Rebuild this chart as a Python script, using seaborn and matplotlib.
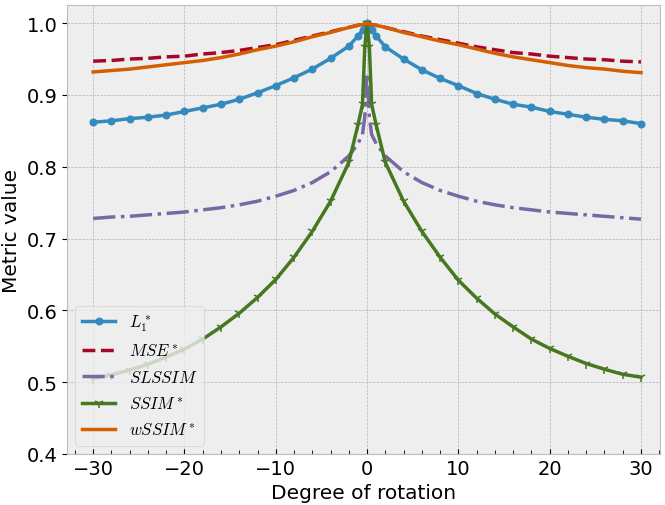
import numpy as np
import pandas as pd
import matplotlib
matplotlib.use('Agg')
import matplotlib.pyplot as plt
import seaborn as sns
from matplotlib.ticker import MultipleLocator

# rotation angles (degrees)
angles = [-30, -28, -26, -24, -22, -20, -18, -16, -14, -12, -10, -8, -6, -4, -2,
          -1, -0.5, -0.25, 0, 0.25, 0.5, 1,
          2, 4, 6, 8, 10, 12, 14, 16, 18, 20, 22, 24, 26, 28, 30]

l1 = [0.862, 0.864, 0.867, 0.869, 0.872, 0.877, 0.882, 0.887, 0.894, 0.903, 0.913, 0.924, 0.936, 0.951, 0.968,
      0.982, 0.990, 0.994, 1.000, 0.994, 0.990, 0.982,
      0.967, 0.950, 0.935, 0.923, 0.913, 0.902, 0.894, 0.887, 0.883, 0.877, 0.873, 0.869, 0.866, 0.864, 0.860]

mse = [0.947, 0.948, 0.950, 0.951, 0.953, 0.954, 0.957, 0.959, 0.962, 0.966, 0.970, 0.976, 0.982, 0.988, 0.994,
       0.997, 0.998, 0.999, 1.000, 0.999, 0.998, 0.997,
       0.994, 0.988, 0.982, 0.977, 0.972, 0.967, 0.963, 0.959, 0.957, 0.954, 0.952, 0.950, 0.949, 0.947, 0.946]

slssim = [0.728, 0.730, 0.731, 0.733, 0.735, 0.737, 0.740, 0.743, 0.747, 0.752, 0.759, 0.767, 0.778, 0.793, 0.815,
          0.832, 0.845, 0.870, 0.930, 0.870, 0.845, 0.832,
          0.815, 0.793, 0.778, 0.767, 0.759, 0.752, 0.747, 0.743, 0.740, 0.737, 0.735, 0.733, 0.731, 0.729, 0.727]

ssim = [0.505, 0.510, 0.517, 0.525, 0.535, 0.546, 0.560, 0.577, 0.596, 0.618, 0.643, 0.674, 0.710, 0.752, 0.806,
        0.858, 0.887, 0.967, 1.000, 0.967, 0.887, 0.858,
        0.806, 0.752, 0.710, 0.674, 0.642, 0.617, 0.595, 0.577, 0.560, 0.547, 0.536, 0.526, 0.518, 0.511, 0.507]

wssim = [0.932, 0.934, 0.936, 0.939, 0.942, 0.945, 0.948, 0.952, 0.957, 0.963, 0.968, 0.974, 0.981, 0.987, 0.994,
         0.997, 0.998, 0.999, 1.000, 0.999, 0.998, 0.997,
         0.994, 0.987, 0.981, 0.975, 0.970, 0.964, 0.958, 0.953, 0.949, 0.945, 0.941, 0.938, 0.936, 0.933, 0.931]

labels = [r'$L_1^*$', r'$MSE^*$', r'$SLSSIM$', r'$SSIM^*$', r'$wSSIM^*$']

plt.style.use('bmh')
plt.rcParams['font.size'] = 14

df = pd.DataFrame({'angle': angles, 'l1': l1, 'mse': mse, 'slssim': slssim,
                   'ssim': ssim, 'wssim': wssim})

fig = plt.figure(figsize=(6.65, 5.06), dpi=100)
ax = fig.add_axes([0.101, 0.1008, 0.891, 0.887])

sns.lineplot(data=df, x='angle', y='l1', ax=ax, label=labels[0], color='#348ABD',
             marker='o', markersize=5, markeredgecolor='#348ABD', linewidth=2.5)
sns.lineplot(data=df, x='angle', y='mse', ax=ax, label=labels[1], color='#A60628',
             linestyle='--', linewidth=2.5)
sns.lineplot(data=df, x='angle', y='slssim', ax=ax, label=labels[2], color='#7A68A6',
             linestyle='-.', linewidth=2.5)
sns.lineplot(data=df, x='angle', y='ssim', ax=ax, label=labels[3], color='#467821',
             marker='1', markersize=7, markeredgecolor='#467821', markeredgewidth=1.1,
             linewidth=2.5)
sns.lineplot(data=df, x='angle', y='wssim', ax=ax, label=labels[4], color='#D55E00',
             linewidth=2.5)

ax.set_xlim(-32.85, 32.05)
ax.set_ylim(0.4, 1.025)
ax.set_yticks([0.4, 0.5, 0.6, 0.7, 0.8, 0.9, 1.0])
ax.set_xticks([-30, -20, -10, 0, 10, 20, 30])
ax.xaxis.set_minor_locator(MultipleLocator(2))
ax.tick_params(axis='both', labelsize=14)
ax.tick_params(axis='x', which='both', direction='in')
ax.tick_params(axis='x', which='minor', length=3)
ax.tick_params(axis='y', direction='out')
ax.grid(True, which='major')
ax.grid(False, which='minor')

ax.set_xlabel('Degree of rotation', fontsize=14.5)
ax.set_ylabel('Metric value', fontsize=14.5)
ax.legend(loc='lower left', fontsize=12)

fig.savefig('out.png', dpi=100)
